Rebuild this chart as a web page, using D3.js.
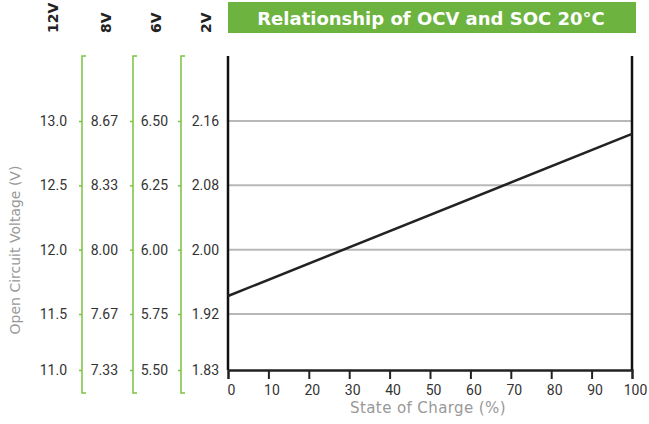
<!DOCTYPE html>
<html>
<head>
<meta charset="utf-8">
<script src="https://cdn.jsdelivr.net/npm/d3@7"></script>
<style>
  body { margin: 0; background: #fff; }
  svg { display: block; font-family: "DejaVu Sans", sans-serif; }
</style>
</head>
<body>
<div id="chart"></div>
<script>
// Chart values
const socValues = [0, 100];               // state of charge (%)
const ocv12 = [11.64, 12.90];             // open circuit voltage, 12V battery
const socTicks = [0, 10, 20, 30, 40, 50, 60, 70, 80, 90, 100];
const voltTicks = [11.0, 11.5, 12.0, 12.5, 13.0];   // in 12V units
const batteries = ['12V', '8V', '6V', '2V'];
const labels12 = ['11.0', '11.5', '12.0', '12.5', '13.0'];
const labels8 = ['7.33', '7.67', '8.00', '8.33', '8.67'];
const labels6 = ['5.50', '5.75', '6.00', '6.25', '6.50'];
const labels2 = ['1.83', '1.92', '2.00', '2.08', '2.16'];
const title = 'Relationship of OCV and SOC 20°C';

const width = 649, height = 424;
const plot = { left: 228, right: 632, top: 56, bottom: 370 };
const green = '#7cc242';
const tickFont = 'Roboto, sans-serif';

const svg = d3.select('#chart').append('svg')
  .attr('width', width)
  .attr('height', height);

// x scale: state of charge
const x = d3.scaleLinear()
  .domain([0, 100])
  .range([plot.left, plot.right]);

// y scale in 12V units (the bottom step is drawn shorter in the original)
const y = d3.scaleLinear()
  .domain([11.0, 11.5, 13.0])
  .range([plot.bottom, 314, 121]);

// Title banner
svg.append('rect')
  .attr('x', 228).attr('y', 2)
  .attr('width', 408).attr('height', 31)
  .attr('fill', '#6cb33f');

svg.append('text')
  .attr('x', 431).attr('y', 25)
  .attr('text-anchor', 'middle')
  .attr('fill', '#fff')
  .style('font-weight', 'bold')
  .style('font-size', '18px')
  .text(title);

// Gridlines
svg.append('g')
  .selectAll('line')
  .data(voltTicks.slice(1))
  .join('line')
  .attr('x1', plot.left).attr('x2', plot.right)
  .attr('y1', d => y(d)).attr('y2', d => y(d))
  .attr('stroke', '#b8b8b8')
  .attr('stroke-width', 2);

// The green voltage axes, one per battery voltage
const voltAxes = [
  { x: 82, labels: labels12, pad: 12, center: 53 },
  { x: 133, labels: labels8, pad: 12, center: 106 },
  { x: 181, labels: labels6, pad: 10, center: 156 },
  { x: plot.left, labels: labels2, pad: 9, center: 206 }
];

voltAxes.forEach(function (a, i) {
  const g = svg.append('g')
    .attr('transform', 'translate(' + a.x + ',0)');

  const axis = d3.axisLeft(y)
    .tickValues(voltTicks)
    .tickFormat((d, j) => a.labels[j])
    .tickSizeOuter(0)
    .tickSize(i < 3 ? 3 : 0)
    .tickPadding(a.pad);

  g.call(axis);
  g.select('.domain').remove();
  g.selectAll('.tick line').attr('stroke', green).attr('stroke-width', 1.5);
  g.selectAll('.tick text')
    .attr('fill', '#333')
    .style('font-size', '14px')
    .style('font-family', tickFont);

  // bracket-shaped axis line
  if (i < 3) {
    g.append('path')
      .attr('d', 'M4,' + plot.top + 'H0V393H4')
      .attr('fill', 'none')
      .attr('stroke', green)
      .attr('stroke-width', 1.5);
  }

  // battery header, rotated
  svg.append('text')
    .attr('transform', 'translate(' + a.center + ',33) rotate(-90)')
    .attr('dy', '0.36em')
    .attr('fill', '#222')
    .style('font-weight', 'bold')
    .style('font-size', '14px')
    .text(batteries[i]);
});

// Plot frame: left and right sides
svg.append('g')
  .selectAll('line')
  .data([0, 100])
  .join('line')
  .attr('x1', d => x(d)).attr('x2', d => x(d))
  .attr('y1', plot.top).attr('y2', plot.bottom)
  .attr('stroke', '#111')
  .attr('stroke-width', 2.5);

// x axis
const xAxis = svg.append('g')
  .attr('transform', 'translate(0,' + plot.bottom + ')')
  .call(d3.axisBottom(x)
    .tickValues(socTicks)
    .tickSizeOuter(0)
    .tickSize(9)
    .tickPadding(6));

xAxis.select('.domain')
  .attr('stroke', '#222')
  .attr('stroke-width', 2.5);
xAxis.selectAll('.tick line').attr('stroke', '#222').attr('stroke-width', 2);
xAxis.selectAll('.tick').filter(d => d === 0 || d === 100).select('line').remove();
xAxis.selectAll('.tick text')
  .attr('x', 3)
  .attr('fill', '#333')
  .style('font-size', '14px')
  .style('font-family', tickFont);

// Axis titles
svg.append('text')
  .attr('x', 428).attr('y', 413)
  .attr('text-anchor', 'middle')
  .attr('fill', '#999')
  .style('font-size', '15px')
  .style('letter-spacing', '0.4px')
  .text('State of Charge (%)');

svg.append('text')
  .attr('transform', 'translate(15,250) rotate(-90)')
  .attr('text-anchor', 'middle')
  .attr('dy', '0.35em')
  .attr('fill', '#999')
  .style('font-size', '14px')
  .text('Open Circuit Voltage (V)');

// OCV line
const line = d3.line()
  .x(d => x(d[0]))
  .y(d => y(d[1]));

svg.append('path')
  .datum(d3.zip(socValues, ocv12))
  .attr('d', line)
  .attr('fill', 'none')
  .attr('stroke', '#222')
  .attr('stroke-width', 2.5);
</script>
</body>
</html>
